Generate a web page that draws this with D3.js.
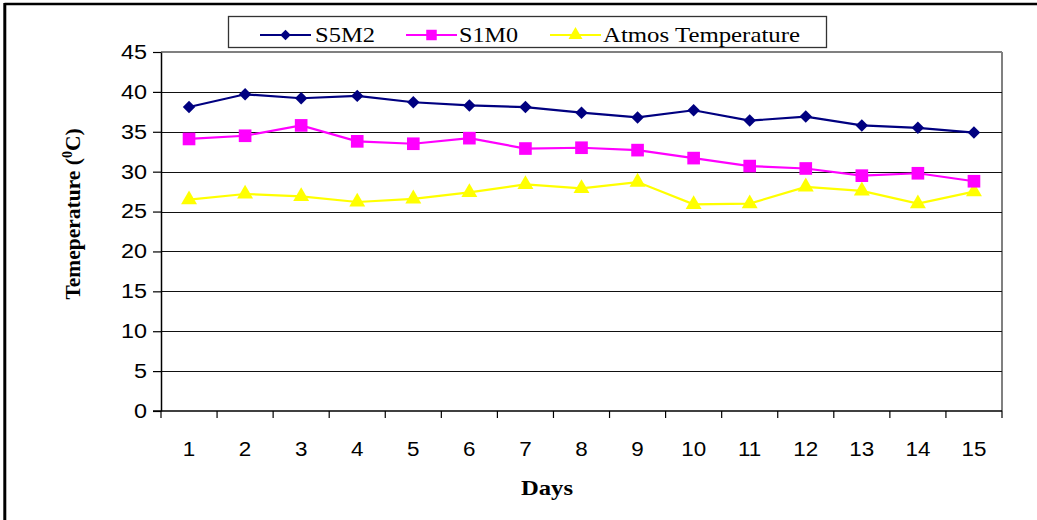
<!DOCTYPE html>
<html>
<head>
<meta charset="utf-8">
<script src="https://cdn.jsdelivr.net/npm/d3@7"></script>
<style>
  html, body { margin: 0; padding: 0; background: #fff; }
  svg { display: block; }
</style>
</head>
<body>
<svg id="chart" width="1037" height="520"></svg>
<script>
// Daily temperatures (°C) for two set-ups and ambient air
const days = ["1","2","3","4","5","6","7","8","9","10","11","12","13","14","15"];
const s5m2 = [38.1, 39.7, 39.2, 39.5, 38.7, 38.3, 38.1, 37.4, 36.8, 37.7, 36.4, 36.9, 35.8, 35.5, 34.9];
const s1m0 = [34.1, 34.5, 35.8, 33.8, 33.5, 34.2, 32.9, 33.0, 32.7, 31.7, 30.7, 30.4, 29.5, 29.8, 28.8];
const atmos = [26.5, 27.2, 26.9, 26.2, 26.6, 27.4, 28.4, 27.9, 28.7, 25.9, 26.0, 28.1, 27.6, 26.0, 27.5];
const yTicks = [0, 5, 10, 15, 20, 25, 30, 35, 40, 45];
const seriesNames = ["S5M2", "S1M0", "Atmos Temperature"];

const svg = d3.select("#chart");
const plotL = 161, plotR = 1002, plotT = 52, plotB = 411;

// widen glyphs horizontally by a fixed factor
function widen(sel, k) {
  sel.each(function () {
    const len = this.getComputedTextLength();
    d3.select(this).attr("textLength", len * k).attr("lengthAdjust", "spacingAndGlyphs");
  });
}

// outer frame
svg.append("line").attr("x1", 4.5).attr("x2", 1037).attr("y1", 4).attr("y2", 4)
  .attr("stroke", "#000").attr("stroke-width", 2.5);
svg.append("line").attr("x1", 4.8).attr("x2", 4.8).attr("y1", 3).attr("y2", 520)
  .attr("stroke", "#000").attr("stroke-width", 3);

const x = d3.scaleBand().domain(days).range([plotL, plotR]).paddingInner(0).paddingOuter(0);
const y = d3.scaleLinear().domain([0, 45]).range([plotB, plotT]);

// plot area border (top and right)
svg.append("line").attr("x1", plotL).attr("x2", plotR).attr("y1", plotT).attr("y2", plotT)
  .attr("stroke", "#808080").attr("stroke-width", 2);
svg.append("line").attr("x1", plotR).attr("x2", plotR).attr("y1", plotT).attr("y2", plotB)
  .attr("stroke", "#808080").attr("stroke-width", 2);

// horizontal gridlines
svg.append("g").selectAll("line").data(yTicks.filter(d => d > 0 && d < 45)).join("line")
  .attr("x1", plotL).attr("x2", plotR)
  .attr("y1", d => Math.round(y(d)) + 0.5).attr("y2", d => Math.round(y(d)) + 0.5)
  .attr("stroke", "#111").attr("stroke-width", 1.2);

// y axis
const yAxis = d3.axisLeft(y).tickValues(yTicks).tickSize(8).tickPadding(6).tickSizeOuter(0);
const gy = svg.append("g").attr("transform", `translate(${plotL},0)`).call(yAxis);
gy.select(".domain").attr("stroke", "#000").attr("stroke-width", 1.5);
gy.selectAll(".tick line").attr("stroke", "#000").attr("stroke-width", 1.2);
gy.selectAll(".tick text").attr("font-family", "'Liberation Sans', Arial, sans-serif")
  .attr("font-size", 20).attr("fill", "#000").call(widen, 1.17);

// x axis: ticks sit between categories
const gx = svg.append("g").attr("transform", `translate(0,${plotB})`);
gx.append("line").attr("x1", plotL - 8).attr("x2", plotR).attr("y1", 0).attr("y2", 0)
  .attr("stroke", "#000").attr("stroke-width", 1.5);
const boundaries = days.map(d => x(d)).concat([plotR]);
gx.selectAll("line.tk").data(boundaries).join("line").attr("class", "tk")
  .attr("x1", d => d).attr("x2", d => d).attr("y1", 0).attr("y2", 7)
  .attr("stroke", "#000").attr("stroke-width", 1.2);
gx.selectAll("text").data(days).join("text")
  .attr("x", d => x(d) + x.bandwidth() / 2).attr("y", 45)
  .attr("text-anchor", "middle")
  .attr("font-family", "'Liberation Sans', Arial, sans-serif").attr("font-size", 20)
  .text(d => d).call(widen, 1.12);

// axis titles
const yt = svg.append("text")
  .attr("transform", "translate(80,214) rotate(-90)")
  .attr("text-anchor", "middle")
  .attr("font-family", "'Liberation Serif', 'Times New Roman', serif")
  .attr("font-size", 21.5).attr("font-weight", "bold");
yt.append("tspan").text("Temeperature (");
yt.append("tspan").attr("font-size", 14).attr("dy", -8).text("0");
yt.append("tspan").attr("dy", 8).text("C)");

svg.append("text").attr("x", 547).attr("y", 495).attr("text-anchor", "middle")
  .attr("font-family", "'Liberation Serif', 'Times New Roman', serif")
  .attr("font-size", 21).attr("font-weight", "bold").text("Days")
  .attr("textLength", 52).attr("lengthAdjust", "spacingAndGlyphs");

// series
const diamond = d3.symbol().type(d3.symbolSquare).size(78);
const series = [
  { name: seriesNames[0], values: s5m2, color: "#000080", symbol: d3.symbolSquare, size: 78, rot: 45 },
  { name: seriesNames[1], values: s1m0, color: "#FF00FF", symbol: d3.symbolSquare, size: 160, rot: 0 },
  { name: seriesNames[2], values: atmos, color: "#FFFF00", symbol: d3.symbolTriangle, size: 110, rot: 0 }
];

const line = d3.line().x((d, i) => x(days[i]) + x.bandwidth() / 2).y(d => y(d));

series.slice().reverse().forEach(s => {
  const g = svg.append("g");
  g.append("path").datum(s.values).attr("d", line)
    .attr("fill", "none").attr("stroke", s.color).attr("stroke-width", 2.2);
  g.selectAll("path.m").data(s.values).join("path").attr("class", "m")
    .attr("transform", (d, i) => `translate(${x(days[i]) + x.bandwidth() / 2},${y(d)}) rotate(${s.rot})`)
    .attr("d", d3.symbol().type(s.symbol).size(s.size))
    .attr("fill", s.color);
});

// legend
const lg = svg.append("g");
lg.append("rect").attr("x", 228.5).attr("y", 16.5).attr("width", 598).attr("height", 31)
  .attr("fill", "#fff").attr("stroke", "#333").attr("stroke-width", 1.3);
const legendItems = [
  { s: series[0], x0: 260, tx: 315, tl: 60, size: 55 },
  { s: series[1], x0: 406, tx: 459, tl: 59, size: 110 },
  { s: series[2], x0: 550, tx: 603, tl: 197, size: 85 }
];
legendItems.forEach(it => {
  lg.append("line").attr("x1", it.x0).attr("x2", it.x0 + 51).attr("y1", 35).attr("y2", 35)
    .attr("stroke", it.s.color).attr("stroke-width", 2.2);
  lg.append("path").attr("transform", `translate(${it.x0 + 25.5},35) rotate(${it.s.rot})`)
    .attr("d", d3.symbol().type(it.s.symbol).size(it.size)).attr("fill", it.s.color);
  lg.append("text").attr("x", it.tx).attr("y", 42)
    .attr("font-family", "'Liberation Serif', 'Times New Roman', serif").attr("font-size", 21)
    .attr("textLength", it.tl).attr("lengthAdjust", "spacingAndGlyphs")
    .text(it.s.name);
});
</script>
</body>
</html>
